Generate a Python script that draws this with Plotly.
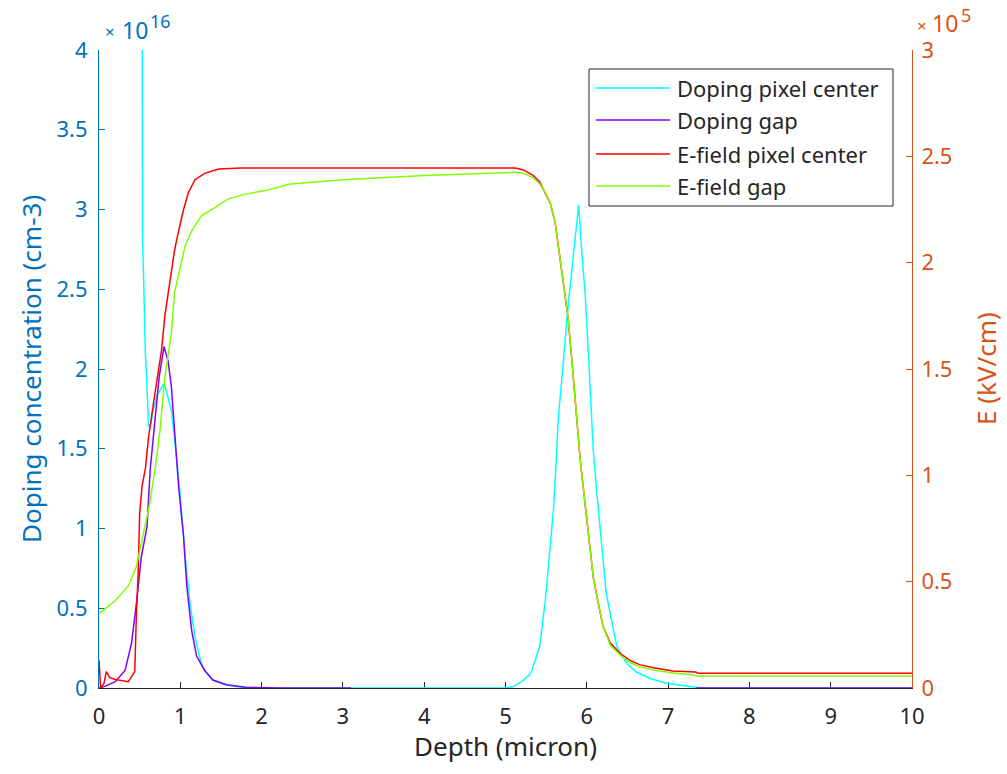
import plotly.graph_objects as go

# ---- Doping profiles (units of 1e16 cm^-3) vs depth (micron) ----
depth_doping_center = [0.0, 0.2, 0.4, 0.52, 0.535, 0.548, 0.557, 0.57, 0.59, 0.61, 0.64, 0.67,
                       0.72, 0.77, 0.80, 0.84, 0.89, 0.93, 1.00, 1.06, 1.12, 1.18, 1.26, 1.30,
                       1.40, 1.55, 1.75, 2.0, 3.0, 4.0, 5.0, 5.10, 5.20, 5.31, 5.42, 5.49, 5.55,
                       5.59, 5.62, 5.65, 5.69, 5.73, 5.77, 5.81, 5.86, 5.90, 5.94, 5.98, 6.02,
                       6.05, 6.08, 6.12, 6.16, 6.20, 6.24, 6.31, 6.37, 6.49, 6.61, 6.78, 6.98,
                       7.27, 7.40, 8.0, 9.0, 10.0]
doping_center = [60.0, 30.0, 15.0, 8.0, 2.8, 2.6, 2.37, 2.1, 1.9, 1.64, 1.66, 1.75,
                 1.84, 1.89, 1.91, 1.84, 1.74, 1.56, 1.20, 0.82, 0.53, 0.32, 0.15, 0.11,
                 0.05, 0.02, 0.005, 0.0, 0.0, 0.0, 0.0, 0.01, 0.04, 0.09, 0.26, 0.55, 0.87,
                 1.12, 1.39, 1.70, 1.92, 2.19, 2.40, 2.59, 2.84, 3.03, 2.72, 2.47, 2.09,
                 1.75, 1.49, 1.24, 1.01, 0.80, 0.59, 0.41, 0.26, 0.155, 0.10, 0.06, 0.03,
                 0.01, 0.0, 0.0, 0.0, 0.0]

depth_doping_gap = [0.0, 0.07, 0.2, 0.32, 0.40, 0.46, 0.52, 0.59, 0.63, 0.69, 0.74, 0.80,
                    0.85, 0.89, 0.93, 0.98, 1.04, 1.08, 1.14, 1.20, 1.30, 1.40, 1.57, 1.80,
                    2.2, 3.1, None, 7.35, 10.0]
doping_gap = [0.0, 0.01, 0.04, 0.11, 0.28, 0.53, 0.82, 1.01, 1.37, 1.68, 1.95, 2.14,
              2.05, 1.89, 1.58, 1.26, 0.95, 0.64, 0.36, 0.20, 0.11, 0.05, 0.02, 0.005,
              0.0, 0.0, None, 0.0, 0.0]

# ---- Electric field profiles (units of 1e5) vs depth (micron) ----
depth_field_center = [0.0, 0.02, 0.06, 0.09, 0.13, 0.2, 0.36, 0.44, 0.46, 0.48, 0.50, 0.53,
                      0.57, 0.61, 0.67, 0.73, 0.77, 0.81, 0.85, 0.89, 0.93, 0.98, 1.04, 1.10,
                      1.18, 1.30, 1.47, 1.75, 2.5, 3.5, 4.5, 5.12, 5.22, 5.34, 5.42, 5.49,
                      5.55, 5.61, 5.65, 5.69, 5.73, 5.77, 5.81, 5.85, 5.88, 5.92, 5.96, 6.00,
                      6.04, 6.08, 6.14, 6.20, 6.29, 6.41, 6.53, 6.65, 6.82, 7.06, 7.34, 7.37,
                      8.0, 9.0, 10.0]
field_center = [0.13, 0.0, 0.02, 0.077, 0.05, 0.04, 0.03, 0.077, 0.35, 0.52, 0.82, 0.95,
                1.03, 1.18, 1.34, 1.48, 1.59, 1.75, 1.86, 1.95, 2.06, 2.15, 2.25, 2.33,
                2.39, 2.42, 2.44, 2.445, 2.445, 2.445, 2.445, 2.445, 2.436, 2.41, 2.38, 2.33,
                2.28, 2.19, 2.08, 1.97, 1.85, 1.74, 1.57, 1.38, 1.26, 1.07, 0.93, 0.79,
                0.66, 0.52, 0.40, 0.29, 0.21, 0.163, 0.13, 0.11, 0.095, 0.08, 0.075, 0.069,
                0.069, 0.069, 0.069]

depth_field_gap = [0.0, 0.2, 0.36, 0.46, 0.52, 0.61, 0.69, 0.75, 0.81, 0.89, 0.93, 1.0,
                   1.06, 1.14, 1.26, 1.43, 1.59, 1.77, 2.06, 2.35, 3.0, 4.0, 5.0, 5.12,
                   5.22, 5.34, 5.42, 5.49, 5.55, 5.61, 5.65, 5.69, 5.73, 5.77, 5.81, 5.85,
                   5.88, 5.92, 5.96, 6.00, 6.04, 6.08, 6.14, 6.20, 6.29, 6.41, 6.53, 6.65,
                   6.82, 7.06, 7.30, 7.35, 8.0, 9.0, 10.0]
field_gap = [0.35, 0.41, 0.48, 0.57, 0.68, 0.84, 1.03, 1.21, 1.46, 1.67, 1.86, 1.98,
             2.08, 2.15, 2.22, 2.26, 2.30, 2.32, 2.34, 2.37, 2.39, 2.41, 2.425, 2.425,
             2.42, 2.40, 2.37, 2.33, 2.28, 2.19, 2.08, 1.97, 1.85, 1.74, 1.57, 1.38,
             1.26, 1.07, 0.93, 0.79, 0.66, 0.52, 0.40, 0.29, 0.20, 0.155, 0.12, 0.10,
             0.085, 0.07, 0.062, 0.056, 0.056, 0.056, 0.056]

# ---- Tick labels ----
x_ticks = list(range(0, 11))
left_tickvals = [0, 0.5, 1, 1.5, 2, 2.5, 3, 3.5, 4]
left_ticktext = ["0", "0.5", "1", "1.5", "2", "2.5", "3", "3.5", "4"]
right_tickvals = [0, 0.5, 1, 1.5, 2, 2.5, 3]
right_ticktext = ["0", "0.5", "1", "1.5", "2", "2.5", "3"]

series_names = ["Doping pixel center", "Doping gap", "E-field pixel center", "E-field gap"]
series_colors = ["#00FFFF", "#8000FF", "#FF0000", "#80FF00"]

BLUE = "#0072BD"
ORANGE = "#D95319"
DARK = "#262626"
FONT = "Noto Sans"
TICK_SIZE = 22
TITLE_SIZE = 26

W, H = 1007, 774
L, R, T, B = 99, 912, 50, 688  # plot area in pixels


def px_x(px):
    return (px - L) / (R - L)


def px_y(py):
    return (B - py) / (B - T)


fig = go.Figure()
fig.add_trace(go.Scatter(x=depth_doping_center, y=doping_center, mode="lines",
                         name=series_names[0], line=dict(color=series_colors[0], width=1.5),
                         yaxis="y", showlegend=False))
fig.add_trace(go.Scatter(x=depth_doping_gap, y=doping_gap, mode="lines",
                         name=series_names[1], line=dict(color=series_colors[1], width=1.5),
                         yaxis="y", showlegend=False, connectgaps=False))
fig.add_trace(go.Scatter(x=depth_field_center, y=field_center, mode="lines",
                         name=series_names[2], line=dict(color=series_colors[2], width=1.5),
                         yaxis="y2", showlegend=False))
fig.add_trace(go.Scatter(x=depth_field_gap, y=field_gap, mode="lines",
                         name=series_names[3], line=dict(color=series_colors[3], width=1.5),
                         yaxis="y2", showlegend=False))

fig.update_layout(
    width=W, height=H,
    margin=dict(l=L, r=W - R, t=T, b=H - B, pad=0),
    paper_bgcolor="white", plot_bgcolor="white",
    font=dict(family=FONT, size=TICK_SIZE, color=DARK),
    xaxis=dict(range=[0, 10], tickvals=x_ticks, ticks="inside", ticklen=6, tickwidth=1,
               tickcolor=DARK, showline=True, linecolor=DARK, linewidth=1, mirror=False,
               showgrid=False, zeroline=False, ticklabelstandoff=9,
               tickfont=dict(family=FONT, size=TICK_SIZE, color=DARK),
               layer="below traces"),
    yaxis=dict(range=[0, 4], tickvals=left_tickvals, ticktext=left_ticktext,
               ticks="inside", ticklen=6, tickwidth=1, tickcolor=BLUE,
               showline=True, linecolor=BLUE, linewidth=1, showgrid=False, zeroline=False,
               ticklabelstandoff=6,
               tickfont=dict(family=FONT, size=TICK_SIZE, color=BLUE), layer="below traces"),
    yaxis2=dict(range=[0, 3], tickvals=right_tickvals, ticktext=right_ticktext,
                overlaying="y", side="right", anchor="x",
                ticks="inside", ticklen=6, tickwidth=1, tickcolor=ORANGE,
                showline=True, linecolor=ORANGE, linewidth=1, showgrid=False, zeroline=False,
                ticklabelstandoff=4,
                tickfont=dict(family=FONT, size=TICK_SIZE, color=ORANGE), layer="below traces"),
)


def label(text, px, py, size, color, xanchor="left", angle=0):
    return dict(text=text, x=px_x(px), y=px_y(py), xref="paper", yref="paper",
                showarrow=False, xanchor=xanchor, yanchor="middle", textangle=angle,
                font=dict(family=FONT, size=size, color=color))


annotations = [
    # axis titles
    label("Doping concentration (cm-3)", 31, 369, TITLE_SIZE, BLUE, "center", -90),
    label("E (kV/cm)", 986, 369, TITLE_SIZE, ORANGE, "center", -90),
    label("Depth (micron)", 505, 746, TITLE_SIZE, DARK, "center"),
    # axis exponent labels: "×10" with a raised power
    label("×", 110, 32, 17, BLUE, "center"),
    label("10", 135, 30, 23, BLUE, "center"),
    label("16", 160, 21, 18, BLUE, "center"),
    label("×", 922, 25, 17, ORANGE, "center"),
    label("10", 945, 23, 23, ORANGE, "center"),
    label("5", 966, 15, 18, ORANGE, "center"),
]

# legend box drawn with shapes and text
shapes = [dict(type="rect", xref="paper", yref="paper",
               x0=px_x(589), x1=px_x(893), y0=px_y(206), y1=px_y(69),
               line=dict(color=DARK, width=1), fillcolor="white", layer="above")]
row_y = [88, 120, 154, 186]
for name, color, ry in zip(series_names, series_colors, row_y):
    shapes.append(dict(type="line", xref="paper", yref="paper",
                       x0=px_x(596), x1=px_x(670), y0=px_y(ry), y1=px_y(ry),
                       line=dict(color=color, width=1.5), layer="above"))
    annotations.append(label(name, 675, ry, 22, DARK))

fig.update_layout(annotations=annotations, shapes=shapes)

fig.write_html("out.html")
